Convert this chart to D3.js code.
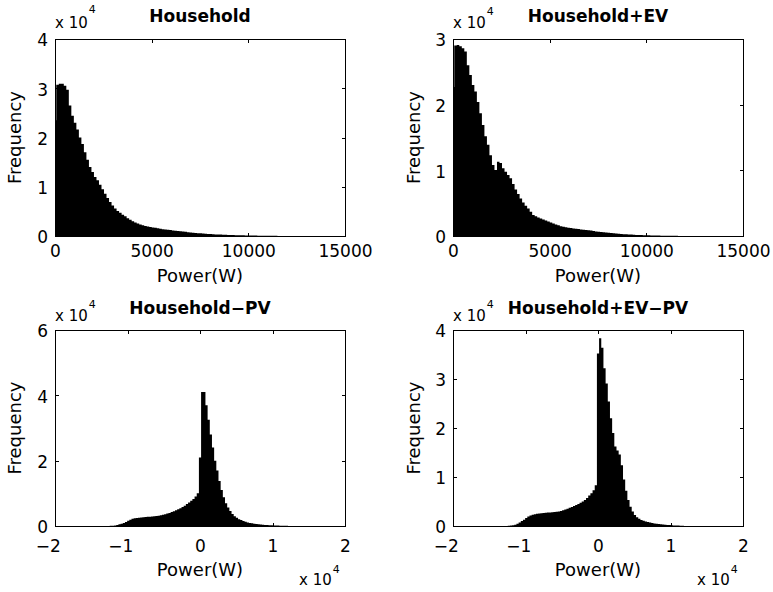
<!DOCTYPE html>
<html>
<head>
<meta charset="utf-8">
<script src="https://cdn.jsdelivr.net/npm/d3@7"></script>
<style>
  body { margin: 0; background: #fff; }
  svg text { font-family: "DejaVu Sans", "Liberation Sans", sans-serif; fill: #000; }
</style>
</head>
<body>
<svg id="chart" width="773" height="592"></svg>
<script>
// ---------------- DATA ----------------
const panelTitles = ["Household", "Household+EV", "Household\u2212PV", "Household+EV\u2212PV"];
const xAxisLabel = "Power(W)";
const yAxisLabel = "Frequency";

// histogram bins (W): centre of first bin and bin width
const topFirstCenter = 0;
const topBinWidth = 130;
const bottomFirstCenter = -12600;
const bottomBinWidth = 300;

// counts per bin
const household = [
  23500,30700,30900,30900,30500,29700,26500,24400,23000,21600,
  20000,18700,17000,15500,14000,13000,12000,11300,10400,9500,
  8600,7700,6900,6200,5600,5100,4700,4300,4000,3600,
  3300,3000,2750,2550,2350,2200,2050,1950,1850,1750,
  1650,1550,1450,1380,1320,1260,1200,1140,1080,1020,
  960,900,840,780,720,670,620,580,540,500,
  460,420,390,360,330,300,280,260,240,220,
  200,185,170,155,140,130,120,110,100,90,
  80,72,65,58,52,46,40,35,30,25,
  20,15,10
];
const householdEV = [
  22700,29000,29100,28900,28600,28100,26000,24500,23000,22000,
  20400,18700,16900,15200,13900,12300,10800,10050,11300,11100,
  10300,9800,9300,8800,7900,7100,6400,5700,5100,4600,
  4200,3700,3200,3000,2800,2650,2500,2350,2200,2050,
  1900,1750,1620,1500,1400,1330,1270,1200,1150,1100,
  1050,1000,960,920,870,820,760,700,650,600,
  560,520,480,440,400,370,340,310,280,255,
  230,210,190,170,155,140,125,112,100,90,
  80,70,62,55,48,42,36,30,25,20,
  16,12,9,6
];
const householdPV = [
  0,40,90,170,300,500,700,950,1250,1600,
  1950,2200,2350,2450,2550,2620,2700,2750,2800,2850,
  2900,2950,3050,3150,3300,3450,3600,3800,4000,4250,
  4500,4800,5100,5400,5800,6200,6700,7200,7700,8300,
  9000,10000,21000,41000,41000,37000,32500,28000,24000,20000,
  17000,13800,11000,8800,7000,5700,4600,3700,3000,2500,
  2100,1800,1500,1300,1100,950,820,700,600,520,
  450,390,340,290,250,210,180,150,120,100,
  80,60,40
];
const householdEVPV = [
  0,30,80,150,280,450,700,1000,1300,1650,
  1950,2150,2300,2400,2480,2550,2600,2650,2700,2730,
  2770,2800,2850,2900,2980,3080,3200,3350,3500,3700,
  3900,4100,4300,4500,4750,5000,5300,5700,6200,6700,
  7300,8300,35200,38300,36400,32200,29100,25400,22000,19000,
  16200,15400,14600,12400,9500,7200,5300,3950,2950,2250,
  1800,1500,1250,1080,940,820,700,600,520,450,
  390,340,290,250,210,180,150,120,100,80,
  60,40,25
];

// axes
const topXDomain = [0, 15000];
const topXTicks = [0, 5000, 10000, 15000];
const topXTickLabels = ["0", "5000", "10000", "15000"];
const bottomXDomain = [-20000, 20000];
const bottomXTicks = [-20000, -10000, 0, 10000, 20000];
const bottomXTickLabels = ["\u22122", "\u22121", "0", "1", "2"];

const yMax = [40000, 30000, 60000, 40000];
const yTicks = [
  [0, 10000, 20000, 30000, 40000],
  [0, 10000, 20000, 30000],
  [0, 20000, 40000, 60000],
  [0, 10000, 20000, 30000, 40000]
];
const yTickLabels = [
  ["0", "1", "2", "3", "4"],
  ["0", "1", "2", "3"],
  ["0", "2", "4", "6"],
  ["0", "1", "2", "3", "4"]
];
const exponentBase = "x 10";
const exponentPower = "4";

// ---------------- LAYOUT ----------------
const layout = [
  {l: 55,  r: 345, t: 39,  b: 236, titleY: 22,  expY: 28.3,  supY: 13,    xPad: 8.6,  xLabelY: 282, yLabelX: 21},
  {l: 453, r: 743, t: 39,  b: 236, titleY: 22,  expY: 28.3,  supY: 15,    xPad: 8.6,  xLabelY: 282, yLabelX: 419.5},
  {l: 55,  r: 345, t: 330, b: 526, titleY: 314, expY: 320.7, supY: 308.3, xPad: 14,   xLabelY: 576, yLabelX: 21,    bExpY: 585.3, bSupY: 572.7},
  {l: 453, r: 743, t: 330, b: 526, titleY: 314, expY: 320.7, supY: 308.3, xPad: 14,   xLabelY: 576, yLabelX: 419.5, bExpY: 585.3, bSupY: 572.7}
];

const panels = [
  {counts: household,     first: topFirstCenter,    bw: topBinWidth,    xDomain: topXDomain,    xTicks: topXTicks,    xLabels: topXTickLabels,    bottomExp: false},
  {counts: householdEV,   first: topFirstCenter,    bw: topBinWidth,    xDomain: topXDomain,    xTicks: topXTicks,    xLabels: topXTickLabels,    bottomExp: false},
  {counts: householdPV,   first: bottomFirstCenter, bw: bottomBinWidth, xDomain: bottomXDomain, xTicks: bottomXTicks, xLabels: bottomXTickLabels, bottomExp: true},
  {counts: householdEVPV, first: bottomFirstCenter, bw: bottomBinWidth, xDomain: bottomXDomain, xTicks: bottomXTicks, xLabels: bottomXTickLabels, bottomExp: true}
];

const TICK_FS = 17, LABEL_FS = 18, TITLE_FS = 17, EXP_FS = 15, SUP_FS = 11;

const svg = d3.select("#chart");
const defs = svg.append("defs");

panels.forEach((p, i) => {
  const L = layout[i];
  const x = d3.scaleLinear().domain(p.xDomain).range([L.l, L.r]);
  const y = d3.scaleLinear().domain([0, yMax[i]]).range([L.b, L.t]);
  const g = svg.append("g");

  defs.append("clipPath").attr("id", "clip" + i)
    .append("rect").attr("x", L.l).attr("y", L.t).attr("width", L.r - L.l).attr("height", L.b - L.t);

  const bins = p.counts.map((c, k) => ({c, x0: p.first + k * p.bw - p.bw / 2, x1: p.first + k * p.bw + p.bw / 2}));

  // histogram bars as one stepped outline (left edge of each bar, value held until next edge)
  const steps = bins.map(d => ({x: d.x0, c: d.c}));
  steps.push({x: bins[bins.length - 1].x1, c: bins[bins.length - 1].c});
  const area = d3.area()
    .x(d => x(d.x))
    .y0(y(0))
    .y1(d => y(d.c))
    .curve(d3.curveStepAfter);
  g.append("g").attr("clip-path", `url(#clip${i})`)
    .append("path")
    .attr("d", area(steps))
    .attr("fill", "#000");

  // axes (ticks inward, Matlab style box)
  const xb = g.append("g").attr("transform", `translate(0,${L.b})`)
    .call(d3.axisBottom(x).tickValues(p.xTicks).tickSizeInner(-3.5).tickSizeOuter(0).tickPadding(L.xPad)
      .tickFormat((d, j) => p.xLabels[j]));
  const xt = g.append("g").attr("transform", `translate(0,${L.t})`)
    .call(d3.axisTop(x).tickValues(p.xTicks).tickSizeInner(-3.5).tickSizeOuter(0).tickFormat(""));
  const yl = g.append("g").attr("transform", `translate(${L.l},0)`)
    .call(d3.axisLeft(y).tickValues(yTicks[i]).tickSizeInner(-3.5).tickSizeOuter(0).tickPadding(7)
      .tickFormat((d, j) => yTickLabels[i][j]));
  const yr = g.append("g").attr("transform", `translate(${L.r},0)`)
    .call(d3.axisRight(y).tickValues(yTicks[i]).tickSizeInner(-3.5).tickSizeOuter(0).tickFormat(""));

  [xb, xt, yl, yr].forEach(a => {
    a.attr("font-family", null).attr("font-size", null);
    a.selectAll("path.domain").attr("stroke", "#000").attr("stroke-width", 1).attr("shape-rendering", "crispEdges");
    a.selectAll(".tick line").attr("stroke", "#000").attr("stroke-width", 1).attr("shape-rendering", "crispEdges");
    a.selectAll(".tick text").style("font-size", TICK_FS + "px").attr("fill", "#000");
  });
  yl.selectAll(".tick text").attr("dy", "0.4em");
  // labels with a leading minus: centre the digit on the tick
  xb.selectAll(".tick text").each(function () {
    const t = d3.select(this);
    if (t.text().startsWith("\u2212")) t.attr("text-anchor", "end").attr("dx", "0.318em");
  });

  // title
  svg.append("text").attr("x", (L.l + L.r) / 2).attr("y", L.titleY)
    .attr("text-anchor", "middle").style("font-size", TITLE_FS + "px").style("font-weight", "bold")
    .text(panelTitles[i]);

  // x label
  svg.append("text").attr("x", (L.l + L.r) / 2).attr("y", L.xLabelY)
    .attr("text-anchor", "middle").style("font-size", LABEL_FS + "px").text(xAxisLabel);

  // y label
  svg.append("text").attr("transform", `translate(${L.yLabelX},${(L.t + L.b) / 2}) rotate(-90)`)
    .attr("text-anchor", "middle").style("font-size", LABEL_FS + "px").text(yAxisLabel);

  // exponent (y)
  const e1 = svg.append("text").attr("x", L.l).attr("y", L.expY).style("font-size", EXP_FS + "px").text(exponentBase);
  const w1 = e1.node().getComputedTextLength();
  svg.append("text").attr("x", L.l + w1 + 1).attr("y", L.supY).style("font-size", SUP_FS + "px").text(exponentPower);

  // exponent (x) for bottom row
  if (p.bottomExp) {
    const e2 = svg.append("text").attr("x", L.r - 46).attr("y", L.bExpY).style("font-size", EXP_FS + "px").text(exponentBase);
    const w2 = e2.node().getComputedTextLength();
    svg.append("text").attr("x", L.r - 46 + w2 + 1).attr("y", L.bSupY).style("font-size", SUP_FS + "px").text(exponentPower);
  }
});
</script>
</body>
</html>
